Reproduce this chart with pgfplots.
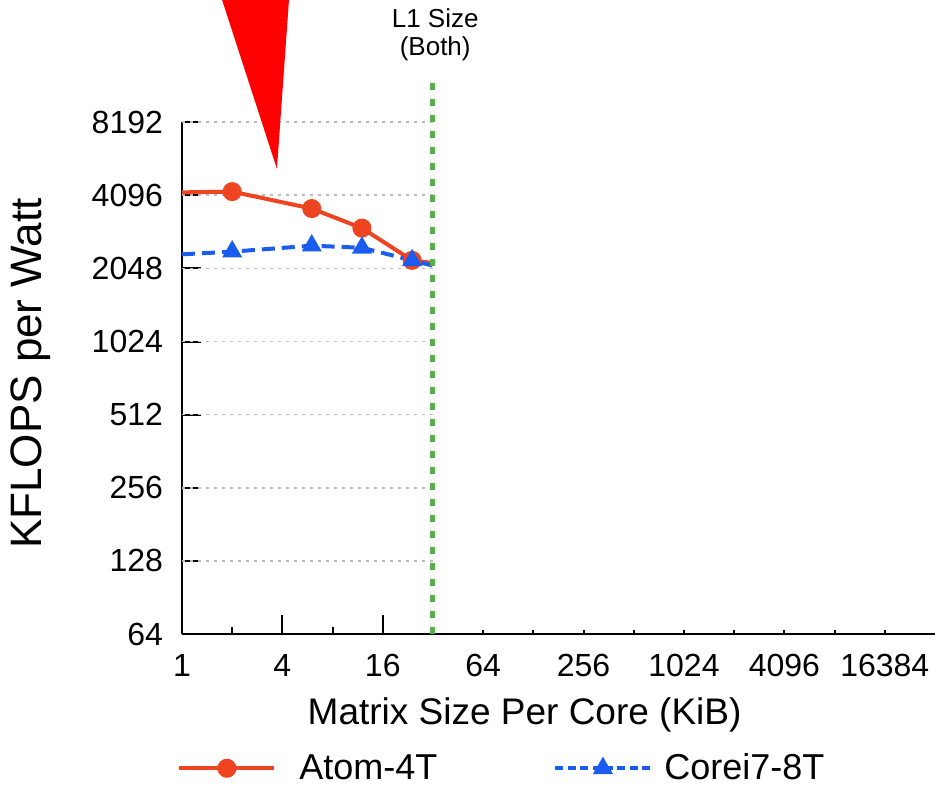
\documentclass[border=0pt]{standalone}
\usepackage{pgfplots}
\pgfplotsset{compat=1.18}
\usepackage{fontspec}
\setmainfont{Liberation Sans}
\definecolor{AtomRed}{HTML}{EE4422}
\definecolor{CoreBlue}{HTML}{1A5CF0}
\definecolor{L1Green}{HTML}{5AAE48}
\definecolor{GridGray}{HTML}{BBBBBB}

\begin{document}
\begin{tikzpicture}
\begin{axis}[
  scale only axis, width=376.5pt, height=256pt,
  xmode=log, ymode=log, log basis x=2, log basis y=2,
  xmin=1, xmax=32768, ymin=64, ymax=8192,
  axis x line*=bottom, axis y line*=left,
  axis line style={line width=1.2pt},
  clip=false,
  xtick={1,4,16}, xticklabels={1,4,16},
  extra x ticks={32,64,128,256,512,1024,2048,4096,8192,16384},
  extra x tick labels={,64,,256,,1024,,4096,,16384},
  extra x tick style={major tick length=2pt},
  ytick={64,128,256,512,1024,2048,4096,8192},
  yticklabels={64,128,256,512,1024,2048,4096,8192},
  tick align=inside,
  major tick length=9.5pt,
  tick style={line width=1pt, black},
  tick label style={font=\fontsize{16}{19}\selectfont},
  xticklabel style={yshift=-6.5pt},
  yticklabel style={xshift=-6pt},
  /pgf/number format/assume math mode=true,
  xlabel={Matrix Size Per Core (KiB)},
  ylabel={KFLOPS per Watt},
  xlabel style={font=\fontsize{18.5}{22}\selectfont, at={(axis description cs:0.455,-0.158)}, anchor=center},
  ylabel style={font=\fontsize{22}{26}\selectfont, at={(axis description cs:-0.2005,0.509)}, anchor=center},
  legend style={draw=none, fill=none, at={(axis description cs:-0.0066,-0.262)}, anchor=west,
    font=\fontsize{18}{21}\selectfont, inner sep=0pt, nodes={inner sep=0pt},
    /tikz/column 1/.style={column sep=11.5pt},
    /tikz/column 2/.style={column sep=58pt},
    /tikz/column 3/.style={column sep=6pt}},
  legend columns=2,
  legend image code/.code={\draw[#1, mark indices={2}] plot coordinates {(0pt,0pt) (23.75pt,0pt) (47.5pt,0pt)};},
]
% dotted guide lines, only as far as the L1 line
\pgfplotsinvokeforeach{128,256,512,1024,2048,4096,8192}{
  \draw[GridGray, line width=0.8pt, dash pattern=on 1.5pt off 2.5pt] (axis cs:1,#1) -- (axis cs:32,#1);
}
% short ticks at 2 and 8
\draw[line width=1pt] (axis cs:2,64) -- ([yshift=3.5pt]axis cs:2,64);
\draw[line width=1pt] (axis cs:8,64) -- ([yshift=3.5pt]axis cs:8,64);

\addplot[AtomRed, line width=2pt, mark=*, mark size=3.75pt, mark indices={2,3,4,5}]
  coordinates {(1,4210) (2,4240) (6,3610) (12,3000) (24,2210) (33,2150)};
\addlegendentry{Atom-4T}

\addplot[CoreBlue, line width=2pt, dash pattern=on 6.5pt off 3.5pt, mark=triangle*, mark size=3.8pt,
  mark options={solid}, mark indices={2,3,4,5},
  legend image post style={dash pattern=on 4pt off 2.2pt}]
  coordinates {(1,2340) (2,2400) (6,2540) (12,2490) (24,2210) (33,2090)};
\addlegendentry{Corei7-8T}

\draw[L1Green, line width=2.5pt, dash pattern=on 3.5pt off 4.5pt] (axis cs:32,64) -- (axis cs:32,12590);
\node[align=center, font=\fontsize{13}{14}\selectfont] at (axis cs:33,18700) {L1 Size\\(Both)};

\fill[red] (axis cs:1.74,26060) -- (axis cs:4.38,26060) -- (axis cs:3.71,5260) -- cycle;

% page frame matching the reference margins
\path (axis description cs:-0.2417,-0.2969) rectangle (axis description cs:1.004,1.2383);
\end{axis}
\end{tikzpicture}
\end{document}
